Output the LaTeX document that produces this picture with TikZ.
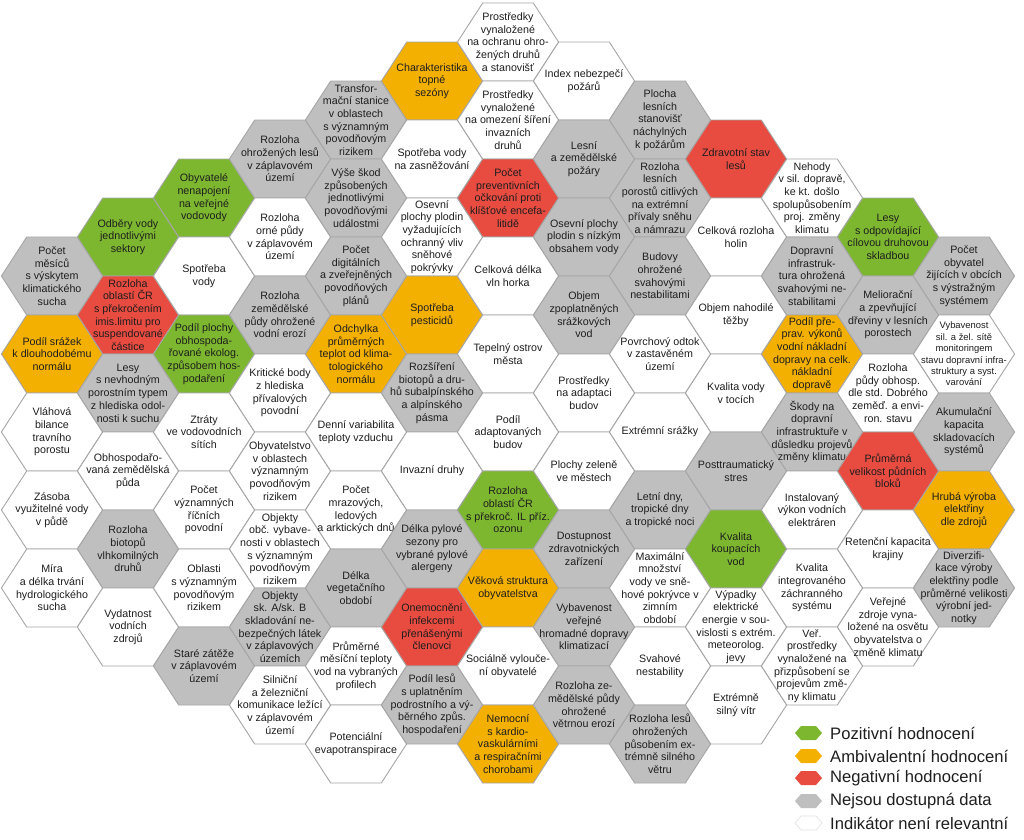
\documentclass[tikz,border=0pt]{standalone}
\usepackage{fontspec}
\setmainfont{Liberation Sans}
\definecolor{cgreen}{HTML}{7DB730}
\definecolor{corange}{HTML}{F4B000}
\definecolor{cred}{HTML}{E84B40}
\definecolor{cgray}{HTML}{BFBFBF}
\definecolor{cline}{HTML}{A6A6A6}
\definecolor{ctext}{HTML}{1E1E1E}
\tikzset{
  hexcell/.style={draw=cline, line width=0.9pt, line join=round},
  fpos/.style={fill=cgreen}, famb/.style={fill=corange}, fneg/.style={fill=cred},
  fnd/.style={fill=cgray}, fnr/.style={fill=white},
  celltext/.style={align=center, font=\fontsize{10.7}{12.7}\selectfont, inner sep=0pt, text=ctext},
  smalltext/.style={font=\fontsize{9.4}{11.4}\selectfont},
  legtext/.style={anchor=west, font=\fontsize{16.6}{18}\selectfont, inner sep=0pt, text=ctext},
}
\newcommand{\hx}[6][]{%
  \draw[hexcell,#4] ({52+76*#2-50.6},#3) -- ++(25.3,-39) -- ++(50.6,0) -- ++(25.3,39) -- ++(-25.3,39) -- ++(-50.6,0) -- cycle;
  \node[celltext,#1] (#5) at ({52+76*#2},#3) {#6};
}
\newcommand{\lhx}[5]{%
  \fill[#3] (#1-13.5,#2) -- ++(6,-7) -- ++(15,0) -- ++(6,7) -- ++(-6,7) -- ++(-15,0) -- cycle;
  \node[legtext] (#4) at (#1+21.5,#2) {#5};
}
\begin{document}
\begin{tikzpicture}[x=1pt,y=-1pt]
\useasboundingbox (0,0) rectangle (1024,839);
% column 0
\hx{0}{276}{fnd}{h0a}{Počet\\měsíců\\s výskytem\\klimatického\\sucha}
\hx{0}{354}{famb}{h0b}{Podíl srážek\\k dlouhodobému\\normálu}
\hx{0}{432}{fnr}{h0c}{Vláhová\\bilance\\travního\\porostu}
\hx{0}{510}{fnr}{h0d}{Zásoba\\využitelné vody\\v půdě}
\hx{0}{588}{fnr}{h0e}{Míra\\a délka trvání\\hydrologického\\sucha}
% column 1
\hx{1}{237}{fpos}{h1a}{Odběry vody\\jednotlivými\\sektory}
\hx{1}{315}{fneg}{h1b}{Rozloha\\oblastí ČR\\s překročením\\imis.limitu pro\\suspendované\\částice}
\hx{1}{393}{fnd}{h1c}{Lesy\\s nevhodným\\porostním typem\\z hlediska odol-\\nosti k suchu}
\hx{1}{471}{fnr}{h1d}{Obhospodařo-\\vaná zemědělská\\půda}
\hx{1}{549}{fnd}{h1e}{Rozloha\\biotopů\\vlhkomilných\\druhů}
\hx{1}{627}{fnr}{h1f}{Vydatnost\\vodních\\zdrojů}
% column 2
\hx{2}{198}{fpos}{h2a}{Obyvatelé\\nenapojení\\na veřejné\\vodovody}
\hx{2}{276}{fnr}{h2b}{Spotřeba\\vody}
\hx{2}{354}{fpos}{h2c}{Podíl plochy\\obhospoda-\\řované ekolog.\\způsobem hos-\\podaření}
\hx{2}{432}{fnr}{h2d}{Ztráty\\ve vodovodních\\sítích}
\hx{2}{510}{fnr}{h2e}{Počet\\významných\\říčních\\povodní}
\hx{2}{588}{fnr}{h2f}{Oblasti\\s významným\\povodňovým\\rizikem}
\hx{2}{666}{fnd}{h2g}{Staré zátěže\\v záplavovém\\území}
% column 3
\hx{3}{159}{fnd}{h3a}{Rozloha\\ohrožených lesů\\v záplavovém\\území}
\hx{3}{237}{fnr}{h3b}{Rozloha\\orné půdy\\v záplavovém\\území}
\hx{3}{315}{fnd}{h3c}{Rozloha\\zemědělské\\půdy ohrožené\\vodní erozí}
\hx{3}{393}{fnr}{h3d}{Kritické body\\z hlediska\\přívalových\\povodní}
\hx{3}{471}{fnr}{h3e}{Obyvatelstvo\\v oblastech\\významným\\povodňovým\\rizikem}
\hx{3}{549}{fnr}{h3f}{Objekty\\obč. vybave-\\nosti v oblastech\\s významným\\povodňovým\\rizikem}
\hx{3}{627}{fnd}{h3g}{Objekty\\sk. A/sk. B\\skladování ne-\\bezpečných látek\\v záplavových\\územích}
\hx{3}{705}{fnr}{h3h}{Silniční\\a železniční\\komunikace ležící\\v záplavovém\\území}
% column 4
\hx{4}{120}{fnd}{h4a}{Transfor-\\mační stanice\\v oblastech\\s významným\\povodňovým\\rizikem}
\hx{4}{198}{fnd}{h4b}{Výše škod\\způsobených\\jednotlivými\\povodňovými\\událostmi}
\hx{4}{276}{fnd}{h4c}{Počet\\digitálních\\a zveřejněných\\povodňových\\plánů}
\hx{4}{354}{famb}{h4d}{Odchylka\\průměrných\\teplot od klima-\\tologického\\normálu}
\hx{4}{432}{fnr}{h4e}{Denní variabilita\\teploty vzduchu}
\hx{4}{510}{fnr}{h4f}{Počet\\mrazových,\\ledových\\a arktických dnů}
\hx{4}{588}{fnd}{h4g}{Délka\\vegetačního\\období}
\hx{4}{666}{fnr}{h4h}{Průměrné\\měsíční teploty\\vod na vybraných\\profilech}
\hx{4}{744}{fnr}{h4i}{Potenciální\\evapotranspirace}
% column 5
\hx{5}{81}{famb}{h5a}{Charakteristika\\topné\\sezóny}
\hx{5}{159}{fnr}{h5b}{Spotřeba vody\\na zasněžování}
\hx{5}{237}{fnr}{h5c}{Osevní\\plochy plodin\\vyžadujících\\ochranný vliv\\sněhové\\pokrývky}
\hx{5}{315}{famb}{h5d}{Spotřeba\\pesticidů}
\hx{5}{393}{fnd}{h5e}{Rozšíření\\biotopů a dru-\\hů subalpínského\\a alpínského\\pásma}
\hx{5}{471}{fnr}{h5f}{Invazní druhy}
\hx{5}{549}{fnd}{h5g}{Délka pylové\\sezony pro\\vybrané pylové\\alergeny}
\hx{5}{627}{fneg}{h5h}{Onemocnění\\infekcemi\\přenášenými\\členovci}
\hx{5}{705}{fnd}{h5i}{Podíl lesů\\s uplatněním\\podrostního a vý-\\běrného způs.\\hospodaření}
% column 6
\hx{6}{42}{fnr}{h6a}{Prostředky\\vynaložené\\na ochranu ohro-\\žených druhů\\a stanovišť}
\hx{6}{120}{fnr}{h6b}{Prostředky\\vynaložené\\na omezení šíření\\invazních\\druhů}
\hx{6}{198}{fneg}{h6c}{Počet\\preventivních\\očkování proti\\klíšťové encefa-\\litidě}
\hx{6}{276}{fnr}{h6d}{Celková délka\\vln horka}
\hx{6}{354}{fnr}{h6e}{Tepelný ostrov\\města}
\hx{6}{432}{fnr}{h6f}{Podíl\\adaptovaných\\budov}
\hx{6}{510}{fpos}{h6g}{Rozloha\\oblastí ČR\\s překroč. IL příz.\\ozonu}
\hx{6}{588}{famb}{h6h}{Věková struktura\\obyvatelstva}
\hx{6}{666}{fnr}{h6i}{Sociálně vylouče-\\ní obyvatelé}
\hx{6}{744}{famb}{h6j}{Nemocní\\s kardio-\\vaskulárními\\a respiračními\\chorobami}
% column 7
\hx{7}{81}{fnr}{h7a}{Index nebezpečí\\požárů}
\hx{7}{159}{fnd}{h7b}{Lesní\\a zemědělské\\požáry}
\hx{7}{237}{fnd}{h7c}{Osevní plochy\\plodin s nízkým\\obsahem vody}
\hx{7}{315}{fnd}{h7d}{Objem\\zpoplatněných\\srážkových\\vod}
\hx{7}{393}{fnr}{h7e}{Prostředky\\na adaptaci\\budov}
\hx{7}{471}{fnr}{h7f}{Plochy zeleně\\ve městech}
\hx{7}{549}{fnd}{h7g}{Dostupnost\\zdravotnických\\zařízení}
\hx{7}{627}{fnd}{h7h}{Vybavenost\\veřejné\\hromadné dopravy\\klimatizací}
\hx{7}{705}{fnd}{h7i}{Rozloha ze-\\mědělské půdy\\ohrožené\\větrnou erozí}
% column 8
\hx{8}{120}{fnd}{h8a}{Plocha\\lesních\\stanovišť\\náchylných\\k požárům}
\hx{8}{198}{fnd}{h8b}{Rozloha\\lesních\\porostů citlivých\\na extrémní\\přívaly sněhu\\a námrazu}
\hx{8}{276}{fnd}{h8c}{Budovy\\ohrožené\\svahovými\\nestabilitami}
\hx{8}{354}{fnr}{h8d}{Povrchový odtok\\v zastavěném\\území}
\hx{8}{432}{fnr}{h8e}{Extrémní srážky}
\hx{8}{510}{fnd}{h8f}{Letní dny,\\tropické dny\\a tropické noci}
\hx{8}{588}{fnr}{h8g}{Maximální\\množství\\vody ve sně-\\hové pokrývce v\\zimním\\období}
\hx{8}{666}{fnr}{h8h}{Svahové\\nestability}
\hx{8}{744}{fnd}{h8i}{Rozloha lesů\\ohrožených\\působením ex-\\trémně silného\\větru}
% column 9
\hx{9}{159}{fneg}{h9a}{Zdravotní stav\\lesů}
\hx{9}{237}{fnr}{h9b}{Celková rozloha\\holin}
\hx{9}{315}{fnr}{h9c}{Objem nahodilé\\těžby}
\hx{9}{393}{fnr}{h9d}{Kvalita vody\\v tocích}
\hx{9}{471}{fnd}{h9e}{Posttraumatický\\stres}
\hx{9}{549}{fpos}{h9f}{Kvalita\\koupacích\\vod}
\hx{9}{627}{fnr}{h9g}{Výpadky\\elektrické\\energie v sou-\\vislosti s extrém.\\meteorolog.\\jevy}
\hx{9}{705}{fnr}{h9h}{Extrémně\\silný vítr}
% column 10
\hx{10}{198}{fnr}{h10a}{Nehody\\v sil. dopravě,\\ke kt. došlo\\spolupůsobením\\proj. změny\\klimatu}
\hx{10}{276}{fnd}{h10b}{Dopravní\\infrastruk-\\tura ohrožená\\svahovými ne-\\stabilitami}
\hx{10}{354}{famb}{h10c}{Podíl pře-\\prav. výkonů\\vodní nákladní\\dopravy na celk.\\nákladní\\dopravě}
\hx{10}{432}{fnd}{h10d}{Škody na\\dopravní\\infrastruktuře v\\důsledku projevů\\změny klimatu}
\hx{10}{510}{fnr}{h10e}{Instalovaný\\výkon vodních\\elektráren}
\hx{10}{588}{fnr}{h10f}{Kvalita\\integrovaného\\záchranného\\systému}
\hx{10}{666}{fnr}{h10g}{Veř.\\prostředky\\vynaložené na\\přizpůsobení se\\projevům změ-\\ny klimatu}
% column 11
\hx{11}{237}{fpos}{h11a}{Lesy\\s odpovídající\\cílovou druhovou\\skladbou}
\hx{11}{315}{fnd}{h11b}{Meliorační\\a zpevňující\\dřeviny v lesních\\porostech}
\hx{11}{393}{fnr}{h11c}{Rozloha\\půdy obhosp.\\dle std. Dobrého\\zeměď. a envi-\\ron. stavu}
\hx{11}{471}{fneg}{h11d}{Průměrná\\velikost půdních\\bloků}
\hx{11}{549}{fnr}{h11e}{Retenční kapacita\\krajiny}
\hx{11}{627}{fnr}{h11f}{Veřejné\\zdroje vyna-\\ložené na osvětu\\obyvatelstva o\\změně klimatu}
% column 12
\hx{12}{276}{fnd}{h12a}{Počet\\obyvatel\\žijících v obcích\\s výstražným\\systémem}
\hx[smalltext]{12}{354}{fnr}{h12b}{Vybavenost\\sil. a žel. sítě\\monitoringem\\stavu dopravní infra-\\struktury a syst.\\varování}
\hx{12}{432}{fnd}{h12c}{Akumulační\\kapacita\\skladovacích\\systémů}
\hx{12}{510}{famb}{h12d}{Hrubá výroba\\elektřiny\\dle zdrojů}
\hx{12}{588}{fnd}{h12e}{Diverzifi-\\kace výroby\\elektřiny podle\\průměrné velikosti\\výrobní jed-\\notky}
% legend
\lhx{808.5}{733}{cgreen}{lg1}{Pozitivní hodnocení}
\lhx{808.5}{756}{corange}{lg2}{Ambivalentní hodnocení}
\lhx{808.5}{778}{cred}{lg3}{Negativní hodnocení}
\lhx{808.5}{801}{cgray}{lg4}{Nejsou dostupná data}
\draw[draw=black!12, line width=0.6pt] (808.5-13.5,823) -- ++(6,-7) -- ++(15,0) -- ++(6,7) -- ++(-6,7) -- ++(-15,0) -- cycle;
\node[legtext] (lg5) at (830,823) {Indikátor není relevantní};
\end{tikzpicture}
\end{document}
